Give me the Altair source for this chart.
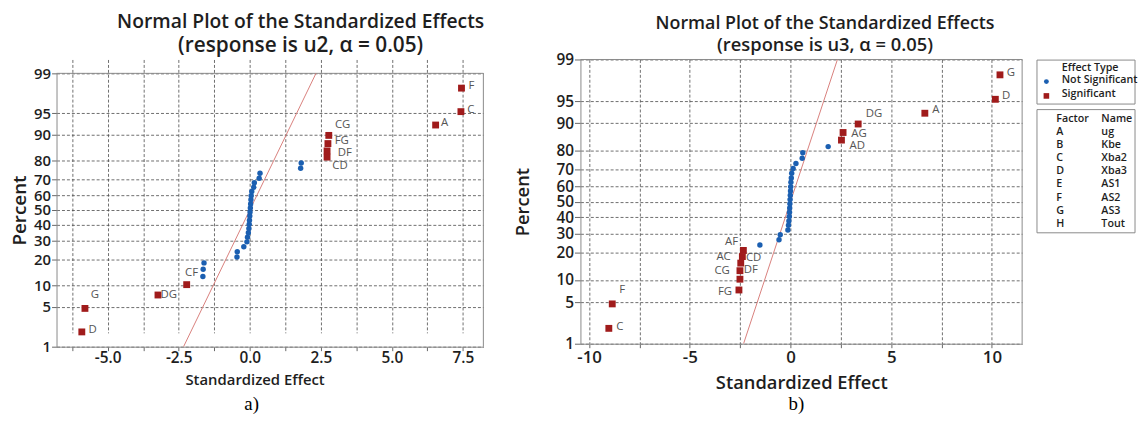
import altair as alt
import pandas as pd
from statistics import NormalDist

_nd = NormalDist()


def probit(p):
    return _nd.inv_cdf(p / 100.0)


PCT_TICKS = [1, 5, 10, 20, 30, 40, 50, 60, 70, 80, 90, 95, 99]

# ---------------- panel a) response u2 ----------------
A_SIG_TERM = ["D", "G", "DG", "CF", "CD", "DF", "FG", "CG", "A", "C", "F"]
A_SIG_EFFECT = [-5.91, -5.80, -3.23, -2.22, 2.72, 2.72, 2.75, 2.78, 6.54, 7.43, 7.45]
A_SIG_PCT = [1.9, 4.7, 7.4, 10.2, 81.6, 84.3, 87.1, 89.8, 92.6, 95.3, 98.1]
A_NS_EFFECT = [-1.65, -1.64, -1.61, -0.45, -0.44, -0.21, -0.10, -0.08, -0.05, -0.03,
               -0.02, -0.01, 0.00, 0.01, 0.02, 0.03, 0.04, 0.05, 0.07, 0.14,
               0.16, 0.33, 0.36, 1.79, 1.81]
A_NS_PCT = [12.9, 15.7, 18.4, 21.2, 23.9, 26.6, 29.4, 32.1, 34.9, 37.6,
            40.4, 43.1, 45.9, 48.6, 51.4, 54.1, 56.9, 59.6, 62.4, 65.1,
            67.9, 70.6, 73.4, 76.1, 78.8]
A_X_GRID = [-6.25, -5.0, -3.75, -2.5, -1.25, 0.0, 1.25, 2.5, 3.75, 5.0, 6.25, 7.5]

# ---------------- panel b) response u3 ----------------
B_SIG_TERM = ["C", "F", "FG", "DF", "CG", "CD", "AC", "AF", "AD", "AG", "DG", "A", "D", "G"]
B_SIG_EFFECT = [-9.02, -8.85, -2.56, -2.51, -2.51, -2.47, -2.39, -2.34,
                2.53, 2.61, 3.36, 6.67, 10.17, 10.40]
B_SIG_PCT = [1.9, 4.7, 7.4, 10.2, 12.9, 15.7, 18.4, 21.2, 84.3, 87.1, 89.8, 92.6, 95.3, 98.1]
B_NS_EFFECT = [-1.52, -0.57, -0.51, -0.13, -0.10, -0.08, -0.06, -0.05, -0.04, -0.03,
               -0.02, -0.01, 0.00, 0.01, 0.02, 0.04, 0.06, 0.13, 0.27, 0.58,
               0.61, 1.87]
B_NS_PCT = [23.9, 26.6, 29.4, 32.1, 34.9, 37.6, 40.4, 43.1, 45.9, 48.6,
            51.4, 54.1, 56.9, 59.6, 62.4, 65.1, 67.9, 70.6, 73.4, 76.1,
            78.8, 81.6]
B_X_GRID = [-10, -7.5, -5, -2.5, 0, 2.5, 5, 7.5, 10]

# reference line (standardized effects, sigma = 1)
FIT_EFFECT = [-2.33, 2.33]
FIT_PCT = [1, 99]

# legend / factor table
EFFECT_TYPES = ["Not Significant", "Significant"]
FACTOR_CODES = ["A", "B", "C", "D", "E", "F", "G", "H"]
FACTOR_NAMES = ["ug", "Kbe", "Xba2", "Xba3", "AS1", "AS2", "AS3", "Tout"]

# ---------------- styling ----------------
FONT = "Open Sans"
BLUE = "#1b5fb1"
RED = "#a01b1b"
LINE_RED = "#d9807c"
TXT = "#1e1e1e"
LBL = "#555555"
FRAME = "#8a8a8a"

A_LABEL_OFFSETS = {"D": (11, -2), "G": (10, -13), "DG": (11, 0), "CF": (5, -12),
                   "CD": (13, 9), "DF": (18, 2), "FG": (14, -3), "CG": (14, -10),
                   "A": (9, -2), "C": (10, -2), "F": (10, -2)}
B_LABEL_OFFSETS = {"C": (11, -1), "F": (10, -14), "FG": (-14, 2), "DF": (11, -9),
                   "CG": (-18, 0), "CD": (13, -5), "AC": (-19, 0), "AF": (-12, -8),
                   "AD": (16, 6), "AG": (16, 2), "DG": (16, -10), "A": (11, -3),
                   "D": (11, -3), "G": (11, -2)}


def y_label_expr():
    expr = "''"
    for p in reversed(PCT_TICKS):
        expr = f"abs(datum.value - ({probit(p):.5f})) < 0.001 ? '{p}' : " + expr
    return expr


def make_panel(sig_term, sig_eff, sig_pct, ns_eff, ns_pct, x_grid, x_dom, x_step, x_fmt,
               width, height, top_pad, subtitle, caption, offsets, s):
    z_lo, z_hi = probit(PCT_TICKS[0]), probit(PCT_TICKS[-1])
    sig = pd.DataFrame({"term": sig_term, "effect": sig_eff,
                        "z": [probit(p) for p in sig_pct]})
    ns = pd.DataFrame({"effect": ns_eff, "z": [probit(p) for p in ns_pct]})
    fit = pd.DataFrame({"effect": FIT_EFFECT, "z": [probit(p) for p in FIT_PCT]})
    # plot frame (top and right edges of the data rectangle)
    frame_top = pd.DataFrame({"effect": [x_dom[0]], "effect2": [x_dom[1]], "z": [z_hi]})
    frame_right = pd.DataFrame({"effect": [x_dom[1]], "z": [z_lo], "z2": [z_hi]})

    x_label = (f"abs(datum.value % {x_step}) < 0.001 ? "
               f"replace(format(datum.value, '{x_fmt}'), '\u2212', '-') : ''")
    xenc = alt.X(
        "effect:Q",
        scale=alt.Scale(domain=x_dom, nice=False, zero=False),
        axis=alt.Axis(
            values=x_grid, labelExpr=x_label, grid=True, gridDash=[3, 2],
            gridColor="#4a4a4a", gridWidth=0.8, domainColor=FRAME,
            tickColor="#666666", tickSize=4, labelFont=FONT,
            labelFontSize=s["xlab"], labelFontWeight=600, labelColor=TXT,
            labelPadding=s["xlpad"], labelFlush=False, labelOverlap=False,
            title="Standardized Effect", titleFont=FONT, titleFontSize=s["xtitle"],
            titleFontWeight=600, titleColor=TXT, titlePadding=s["xtpad"],
            titleX=s["xtitleX"]),
    )
    yenc = alt.Y(
        "z:Q",
        scale=alt.Scale(domain=[z_lo, z_hi], range=[height, top_pad],
                        nice=False, zero=False),
        axis=alt.Axis(
            values=[probit(p) for p in PCT_TICKS], labelExpr=y_label_expr(),
            grid=True, gridDash=[3, 2], gridColor="#4a4a4a", gridWidth=0.8,
            domainColor=FRAME, tickColor="#666666", tickSize=s["ytick"],
            labelFont=FONT, labelFontSize=s["ylab"], labelFontWeight=600,
            labelColor=TXT, labelPadding=1, labelOverlap=False, labelFlush=False,
            title="Percent", titleFont=FONT, titleFontSize=s["ytitle"],
            titleFontWeight=600, titleColor=TXT, titlePadding=s["ytpad"]),
    )

    layers = [
        alt.Chart(frame_top).mark_rule(color=FRAME, strokeWidth=1)
        .encode(x=xenc, x2="effect2:Q", y=yenc),
        alt.Chart(frame_right).mark_rule(color=FRAME, strokeWidth=1)
        .encode(x=xenc, y=yenc, y2="z2:Q"),
        alt.Chart(fit).mark_line(color=LINE_RED, strokeWidth=1, clip=True)
        .encode(x=xenc, y=yenc),
        alt.Chart(ns).mark_point(shape="circle", filled=True, size=s["dot"],
                                 color=BLUE, opacity=1).encode(x=xenc, y=yenc),
        alt.Chart(sig).mark_point(shape="square", filled=True, size=s["sq"],
                                  color=RED, opacity=1).encode(x=xenc, y=yenc),
    ]
    for t in sig_term:
        dx, dy = offsets[t]
        layers.append(
            alt.Chart(sig).transform_filter(alt.datum.term == t)
            .mark_text(font=FONT, fontSize=s["lbl"], color=LBL, align="center",
                       baseline="middle", dx=dx, dy=dy)
            .encode(x=xenc, y=yenc, text="term:N")
        )
    layers.append(
        alt.Chart(pd.DataFrame({"cap": [caption]}))
        .mark_text(font="Liberation Serif", fontSize=19, color="#000000",
                   align="center", baseline="middle")
        .encode(text="cap:N", x=alt.value(s["capx"]), y=alt.value(height + s["capdy"]))
    )
    return alt.layer(*layers).properties(
        width=width, height=height,
        title=alt.TitleParams(
            text="Normal Plot of the Standardized Effects", subtitle=subtitle,
            font=FONT, fontSize=s["title"], fontWeight=600, color=TXT,
            subtitleFont=FONT, subtitleFontSize=s["sub"], subtitleFontWeight=600,
            subtitleColor=TXT, subtitlePadding=3, anchor="middle",
            dx=s["tdx"], offset=s["toff"]),
    )


# panel a: data rectangle starts 14 px below panel b's (different original sizes)
panel_a = make_panel(
    A_SIG_TERM, A_SIG_EFFECT, A_SIG_PCT, A_NS_EFFECT, A_NS_PCT, A_X_GRID,
    [-6.8, 8.22], 2.5, ".1f", 431, 290, 14, "(response is u2, \u03b1 = 0.05)", "a)",
    A_LABEL_OFFSETS,
    dict(xlab=15.5, xlpad=0, xtitle=15, xtpad=7, xtitleX=200, ylab=15, ytick=5,
         ytitle=19, ytpad=4.5, dot=30, sq=48, lbl=11.5, capx=197, capdy=58,
         title=19.5, sub=21, tdx=31, toff=2.5),
)
panel_b = make_panel(
    B_SIG_TERM, B_SIG_EFFECT, B_SIG_PCT, B_NS_EFFECT, B_NS_PCT, B_X_GRID,
    [-10.43, 11.5], 5, "d", 446, 287, 0, "(response is u3, \u03b1 = 0.05)", "b)",
    B_LABEL_OFFSETS,
    dict(xlab=17, xlpad=1.5, xtitle=18.5, xtpad=9, xtitleX=223, ylab=15.5, ytick=6,
         ytitle=18.5, ytpad=23.7, dot=30, sq=48, lbl=11.5, capx=218, capdy=61,
         title=18, sub=18.5, tdx=24, toff=-2),
)

# ---------------- legend / factor table panel ----------------
LW, LH = 100, 176
lx = alt.Scale(domain=[0, LW], nice=False, zero=False)
ly = alt.Scale(domain=[0, LH], nice=False, zero=False, reverse=True)

boxes = pd.DataFrame({"x": [0.5, 0.5], "x2": [LW - 0.5, LW - 0.5],
                      "y": [0.6, 50.6], "y2": [45.0, 175.0]})
head = pd.DataFrame({"x": [25.5, 20, 65.5], "y": [8.3, 60, 60],
                     "t": ["Effect Type", "Factor", "Name"]})
types = pd.DataFrame({"x": [25.5, 25.5], "y": [20.8, 35.3], "t": EFFECT_TYPES})
rows_y = [60 + 13.25 * (i + 1) for i in range(len(FACTOR_CODES))]
codes = pd.DataFrame({"x": [20] * len(FACTOR_CODES), "y": rows_y, "t": FACTOR_CODES})
names = pd.DataFrame({"x": [65.5] * len(FACTOR_NAMES), "y": rows_y, "t": FACTOR_NAMES})
sym_ns = pd.DataFrame({"x": [10], "y": [22.3]})
sym_s = pd.DataFrame({"x": [10], "y": [36.8]})

LX = alt.X("x:Q", scale=lx, axis=None)
LY = alt.Y("y:Q", scale=ly, axis=None)


def ltext(df):
    return alt.Chart(df).mark_text(font=FONT, fontSize=10.8, fontWeight=600, color=TXT,
                                   align="left", baseline="middle").encode(
        x=LX, y=LY, text="t:N")


legend_panel = alt.layer(
    alt.Chart(boxes).mark_rect(fill="white", stroke=FRAME, strokeWidth=1).encode(
        x=LX, x2="x2:Q", y=LY, y2="y2:Q"),
    ltext(head), ltext(types), ltext(codes), ltext(names),
    alt.Chart(sym_ns).mark_point(shape="circle", filled=True, size=24, color=BLUE,
                                 opacity=1).encode(x=LX, y=LY),
    alt.Chart(sym_s).mark_point(shape="square", filled=True, size=32, color=RED,
                                opacity=1).encode(x=LX, y=LY),
).properties(width=LW, height=LH)

chart = alt.concat(
    alt.concat(panel_a, panel_b, columns=2, spacing=28, align="none"),
    legend_panel, columns=2, spacing=13.5, align="none",
).properties(padding={"top": 2, "left": 2, "right": 0, "bottom": 0}).configure_view(stroke=None)

chart.save("out.html", embed_options={"renderer": "svg", "actions": False})
